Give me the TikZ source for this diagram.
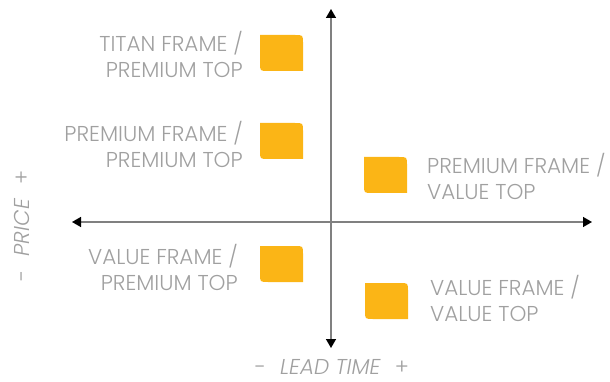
\documentclass[tikz,border=0pt]{standalone}
\usepackage{fontspec}
\setmainfont{Poppins}[UprightFont=* Light, ItalicFont=* Light Italic]
\usetikzlibrary{arrows.meta}
\definecolor{sqcol}{HTML}{FBB516}
\definecolor{txtcol}{HTML}{A0A0A0}
\definecolor{axiscol}{HTML}{808080}
\tikzset{
  axis/.style={draw=axiscol, line width=1.4pt, {Triangle[color=black,width=10pt,length=9pt]}-{Triangle[color=black,width=10pt,length=9pt]}},
  lbl/.style={text=txtcol, font=\fontsize{21.5}{26}\selectfont, inner sep=0pt},
  lblL/.style={lbl, align=right, anchor=east},
  lblR/.style={lbl, align=left, anchor=west},
  sqshape/.style={fill=sqcol}
}
\newcommand{\mysq}[3]{% name, x0, y0
  \fill[sqshape] (#2,#3) -- ({#2+35},#3) .. controls ({#2+43},#3) .. ({#2+43},{#3+8}) -- ({#2+43},{#3+36}) -- ({#2+8},{#3+36}) .. controls (#2,{#3+36}) .. (#2,{#3+28}) -- cycle;
  \coordinate (#1) at ({#2+21.5},{#3+18});
}
\begin{document}
\begin{tikzpicture}[x=1pt,y=-1pt]
\useasboundingbox (0,0) rectangle (610,382);
\coordinate (top) at (331,9);
\coordinate (bot) at (331,348);
\coordinate (lft) at (72,222);
\coordinate (rgt) at (592,222);
\draw[axis] (bot) -- (top);
\draw[axis] (lft) -- (rgt);

\mysq{s1}{260}{35}
\mysq{s2}{260}{123}
\mysq{s3}{364}{157}
\mysq{s4}{260}{246}
\mysq{s5}{365}{283}

\node[lblL] (t1) at (243,54) {TITAN FRAME /\\PREMIUM TOP};
\node[lblL] (t2) at (243,144) {PREMIUM FRAME /\\PREMIUM TOP};
\node[lblR] (t3) at (427,176) {PREMIUM FRAME /\\VALUE TOP};
\node[lblL] (t4) at (238,267) {VALUE FRAME /\\PREMIUM TOP};
\node[lblR] (t5) at (430,298) {VALUE FRAME /\\VALUE TOP};

\node[lbl, rotate=90, text height=15pt, text depth=0pt] (price) at (22,226) {-\hspace{14pt}\textit{PRICE}\hspace{14pt}+};
\node[lbl, anchor=base, text height=15pt, text depth=0pt] (lead) at (332,374) {-\hspace{14pt}\textit{LEAD TIME}\hspace{14pt}+};
\end{tikzpicture}
\end{document}
